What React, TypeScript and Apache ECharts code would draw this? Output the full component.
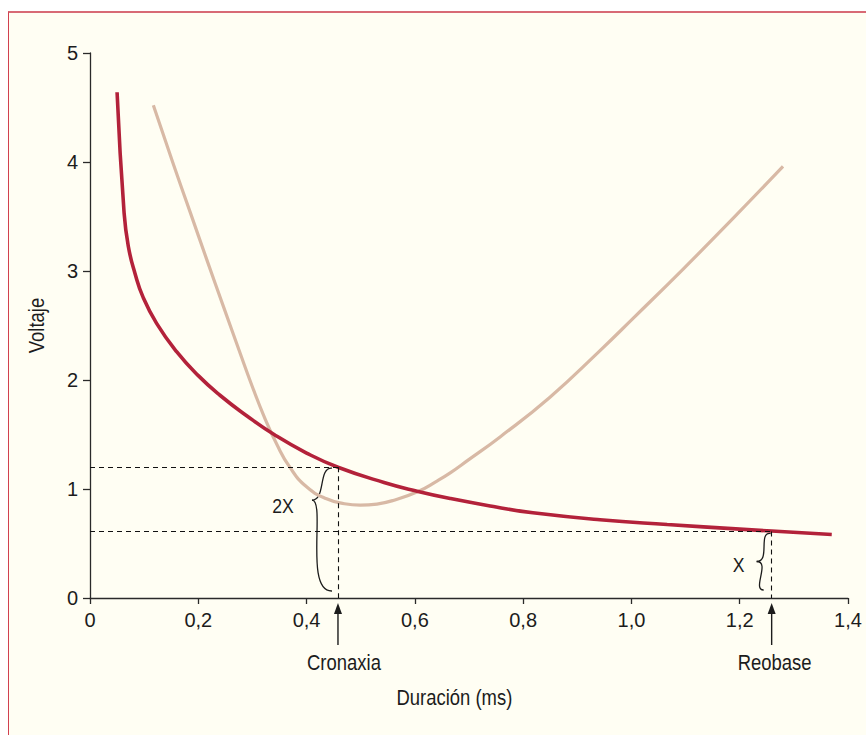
import React, { useEffect, useRef } from "react";
import * as echarts from "echarts";

const FONT = "'Liberation Sans', Arial, sans-serif";
const NARROW = 0.84;

// Strength–duration curve (red)
const redCurve: number[][] = [
  [0.05, 4.64], [0.063, 3.53], [0.071, 3.22], [0.083, 2.98], [0.098, 2.76],
  [0.123, 2.52], [0.16, 2.26], [0.2, 2.04], [0.24, 1.86], [0.29, 1.67],
  [0.34, 1.5], [0.4, 1.33], [0.458, 1.2], [0.543, 1.06], [0.604, 0.98],
  [0.666, 0.912], [0.75, 0.835], [0.818, 0.782], [0.942, 0.718], [1.066, 0.674],
  [1.2, 0.632], [1.259, 0.614], [1.37, 0.583],
];

// Second curve (tan)
const tanCurve: number[][] = [
  [0.117, 4.52], [0.154, 3.98], [0.185, 3.54], [0.216, 3.1], [0.246, 2.68],
  [0.277, 2.25], [0.299, 1.95], [0.322, 1.66], [0.345, 1.41], [0.369, 1.2],
  [0.4, 1.02], [0.437, 0.91], [0.47, 0.865], [0.499, 0.852], [0.53, 0.862],
  [0.56, 0.895], [0.607, 0.98], [0.64, 1.07], [0.666, 1.15], [0.697, 1.26],
  [0.758, 1.48], [0.849, 1.84], [0.942, 2.27], [1.004, 2.57], [1.096, 3.02],
  [1.189, 3.49], [1.28, 3.96],
];

const cronaxia: number[] = [0.458, 1.2];
const reobase: number[] = [1.259, 0.61];
const xAxisName = "Duración (ms)";
const yAxisName = "Voltaje";
const cronaxiaLabel = "Cronaxia";
const reobaseLabel = "Reobase";
const braceLabels: string[] = ["2X", "X"];

const INK = "#1c1c1c";

export default function App() {
  const ref = useRef<HTMLDivElement>(null);

  useEffect(() => {
    if (!ref.current) return;
    const chart = echarts.init(ref.current, undefined, { renderer: "svg" });
    const fmtX = (v: number) => (v === 0 ? "0" : v.toFixed(1).replace(".", ","));
    const fmtY = (v: number) => String(Math.round(v));
    const axisCommon = {
      axisLine: { show: true, lineStyle: { color: "#2a2a2a", width: 1.3 } },
      axisTick: { show: true, inside: false, lineStyle: { color: "#2a2a2a", width: 1.3 } },
      splitLine: { show: false },
      axisLabel: { fontSize: 20, fontFamily: FONT, color: INK, margin: 12 },
    };
    const dashed = { type: [5, 4] as any, color: "#111", width: 1.1 };
    chart.setOption({
      animation: false,
      backgroundColor: "transparent",
      grid: { left: 90, right: 18, top: 53, bottom: 137, containLabel: false },
      xAxis: {
        type: "value", min: 0, max: 1.4, interval: 0.2,
        ...axisCommon,
        axisTick: { ...axisCommon.axisTick, length: 6 },
        axisLabel: { ...axisCommon.axisLabel, formatter: fmtX },
      },
      yAxis: {
        type: "value", min: 0, max: 5, interval: 1,
        ...axisCommon,
        axisTick: { ...axisCommon.axisTick, length: 7 },
        axisLabel: { ...axisCommon.axisLabel, formatter: fmtY },
      },
      series: [
        {
          type: "line", data: tanCurve, smooth: 0.5, showSymbol: false, z: 2,
          lineStyle: { color: "#d8b9a5", width: 3.2 },
          markLine: {
            silent: true, symbol: "none", animation: false,
            label: { show: false },
            lineStyle: dashed,
            data: [
              [{ coord: [0, cronaxia[1]] }, { coord: [cronaxia[0], cronaxia[1]] }],
              [{ coord: [cronaxia[0], cronaxia[1]] }, { coord: [cronaxia[0], 0] }],
              [{ coord: [0, reobase[1]] }, { coord: [reobase[0], reobase[1]] }],
              [{ coord: [reobase[0], reobase[1]] }, { coord: [reobase[0], 0] }],
            ],
          },
        },
        {
          type: "line", data: redCurve, smooth: 0.5, showSymbol: false, z: 3,
          lineStyle: { color: "#b3223a", width: 3.6 },
        },
      ],
    });

    const px = (x: number, y: number) => chart.convertToPixel({ gridIndex: 0 }, [x, y]) as number[];
    const C = px(cronaxia[0], cronaxia[1]);
    const R = px(reobase[0], reobase[1]);
    const O = px(0, 0);
    const y0 = O[1];
    const stroke = { stroke: INK, lineWidth: 1.3, fill: "none" };
    const textEl = (t: string, x: number, y: number, size = 22) => ({
      type: "text", x, y, scaleX: NARROW,
      style: { text: t, fontSize: size, fontFamily: FONT, fill: INK, align: "center", verticalAlign: "middle" },
    });
    const arrow = (x: number) => [
      { type: "line", shape: { x1: x, y1: y0 + 14, x2: x, y2: y0 + 47 }, style: { stroke: INK, lineWidth: 1.4 } },
      { type: "polygon", shape: { points: [[x, y0 + 5], [x - 4, y0 + 16], [x + 4, y0 + 16]] }, style: { fill: INK } },
    ];
    const brace = (T: number[], P: number[], B: number[], c1: number[], c2: number[], c3: number[], c4: number[]) => [
      { type: "bezierCurve", shape: { x1: T[0], y1: T[1], cpx1: c1[0], cpy1: c1[1], cpx2: c2[0], cpy2: c2[1], x2: P[0], y2: P[1] }, style: stroke },
      { type: "bezierCurve", shape: { x1: P[0], y1: P[1], cpx1: c3[0], cpy1: c3[1], cpx2: c4[0], cpy2: c4[1], x2: B[0], y2: B[1] }, style: stroke },
    ];
    const b1T = [C[0] - 6, C[1] + 1], b1P = [C[0] - 26, C[1] + 33], b1B = [C[0] - 6, y0 - 7];
    const b2T = [R[0] - 1, R[1] + 2], b2P = [R[0] - 15, R[1] + 30], b2B = [R[0] - 8, y0 - 8];
    const mid = px(0.673, 0);
    const yMid = px(0, 2.5);

    chart.setOption({
      graphic: [
        ...arrow(C[0]),
        ...arrow(R[0]),
        ...brace(b1T, b1P, b1B,
          [b1T[0] - 14, b1T[1] - 1], [b1T[0] - 6, b1P[1]],
          [b1T[0] - 6, b1P[1]], [b1T[0] - 28, b1B[1] + 1]),
        ...brace(b2T, b2P, b2B,
          [b2T[0] - 13, b2T[1] - 2], [b2T[0], b2P[1]],
          [b2T[0], b2P[1]], [b2T[0] - 19, b2B[1]]),
        textEl(braceLabels[0], C[0] - 55, C[1] + 38, 21),
        textEl(braceLabels[1], R[0] - 33, R[1] + 33, 21),
        textEl(cronaxiaLabel, C[0] + 6, y0 + 64),
        textEl(reobaseLabel, R[0] + 3, y0 + 64),
        textEl(xAxisName, mid[0], y0 + 99),
        { ...textEl(yAxisName, 36, yMid[1]), rotation: Math.PI / 2 },
      ],
    });

    return () => chart.dispose();
  }, []);

  return (
    <div style={{ position: "fixed", left: 0, top: 0, width: 866, height: 735, background: "#ffffff", overflow: "hidden" }}>
      <div
        style={{
          position: "absolute", left: 8, top: 11, width: 900, height: 800,
          background: "#fffef3", borderLeft: "1.5px solid #d1404f", borderTop: "2px solid #d86a75",
        }}
      />
      <div ref={ref} style={{ position: "absolute", left: 0, top: 0, width: 866, height: 735 }} />
    </div>
  );
}
